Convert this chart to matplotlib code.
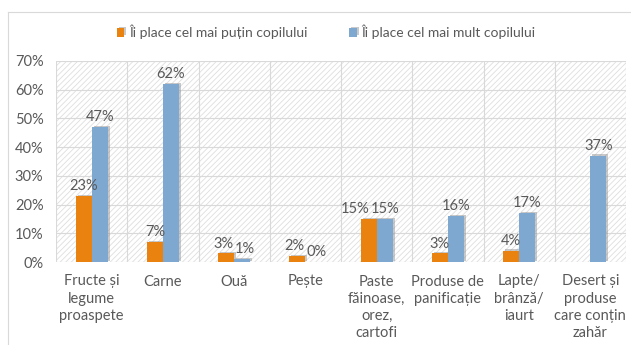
import matplotlib
matplotlib.use("Agg")
import matplotlib.pyplot as plt
import matplotlib.patheffects as pe
from matplotlib.patches import Rectangle
from matplotlib.lines import Line2D
import numpy as np

plt.rcParams['font.family'] = ['Lato', 'DejaVu Sans']
plt.rcParams['hatch.linewidth'] = 0.6

categories = [
    "Fructe și\nlegume\nproaspete",
    "Carne",
    "Ouă",
    "Pește",
    "Paste\nfăinoase,\norez,\ncartofi",
    "Produse de\npanificație",
    "Lapte/\nbrânză/\niaurt",
    "Desert și\nproduse\ncare conțin\nzahăr",
]
least_liked = [23, 7, 3, 2, 15, 3, 4, None]
most_liked = [47, 62, 1, 0, 15, 16, 17, 37]
series_names = ["Îi place cel mai puțin copilului", "Îi place cel mai mult copilului"]
y_ticks = [0, 10, 20, 30, 40, 50, 60, 70]

orange = "#E9820F"
blue = "#7EA8CF"
text_col = "#595959"
grid_col = "#D9D9D9"
fs = 10.5

fig = plt.figure(figsize=(6.31, 3.45), dpi=100)
fig.patch.set_facecolor("white")

# outer chart frame
fig.add_artist(Line2D([8/631, 8/631], [0, 1 - 12/345], transform=fig.transFigure,
                      color="#D9D9D9", lw=0.8))
fig.add_artist(Line2D([8/631, 1], [1 - 12/345, 1 - 12/345], transform=fig.transFigure,
                      color="#D9D9D9", lw=0.8))

ax = fig.add_axes([56/631, 1 - 262/345, 570/631, (262 - 61)/345])
ax.set_xlim(0, len(categories))
ax.set_ylim(0, 70)

# hatched plot background
ax.add_patch(Rectangle((0, 0), len(categories), 70, facecolor="white",
                       edgecolor="#DEDEDE", hatch="//////", lw=0, zorder=0))

for y in y_ticks:
    ax.axhline(y, color=grid_col, lw=0.8, zorder=1)
for i in range(len(categories) + 1):
    ax.axvline(i, color=grid_col, lw=0.8, zorder=1)

x = np.arange(len(categories)) + 0.5
w = 0.225
shadow = [pe.SimplePatchShadow(offset=(1.5, 1.0), shadow_rgbFace="#888888", alpha=0.45),
          pe.Normal()]

lv = [v if v is not None else 0 for v in least_liked]
b1 = ax.bar(x - w/2, lv, width=w, color=orange, zorder=3, label=series_names[0])
b2 = ax.bar(x + w/2, most_liked, width=w, color=blue, zorder=3, label=series_names[1])
for b in list(b1) + list(b2):
    b.set_path_effects(shadow)

for xi, v, m in zip(x, least_liked, most_liked):
    if v is None:
        ax.annotate(f"{m}%", (xi + w/2, m), xytext=(0, 2), textcoords="offset points",
                    ha="center", va="bottom", fontsize=fs, color=text_col, zorder=5)
        continue
    # spread the two labels apart when the bars have similar heights
    if abs(v - m) < 3:
        dl, dr = (-10, 0) if v > 5 else (-2, 2)
    else:
        dl, dr = 0, 0
    ax.annotate(f"{v}%", (xi - w/2, v), xytext=(dl, 2), textcoords="offset points",
                ha="center", va="bottom", fontsize=fs, color=text_col, zorder=5)
    ax.annotate(f"{m}%", (xi + w/2, m), xytext=(dr, 2), textcoords="offset points",
                ha="center", va="bottom", fontsize=fs, color=text_col, zorder=5)

ax.set_yticks(y_ticks)
ax.set_yticklabels([f"{t}%" for t in y_ticks], fontsize=fs, color=text_col)
ax.set_xticks(x)
ax.set_xticklabels(categories, fontsize=fs, color=text_col, linespacing=1.3)
ax.tick_params(axis="y", length=0, pad=9)
ax.tick_params(axis="x", length=0, pad=9)
for s in ax.spines.values():
    s.set_visible(False)

fig.legend(handles=[b1, b2], labels=series_names, loc="center",
           bbox_to_anchor=(0.517, 1 - 32/345), ncol=2, frameon=False,
           fontsize=10, labelcolor=text_col, handlelength=0.55, handleheight=0.55,
           handletextpad=0.35, columnspacing=3.0)

fig.savefig("out.png", dpi=100)
